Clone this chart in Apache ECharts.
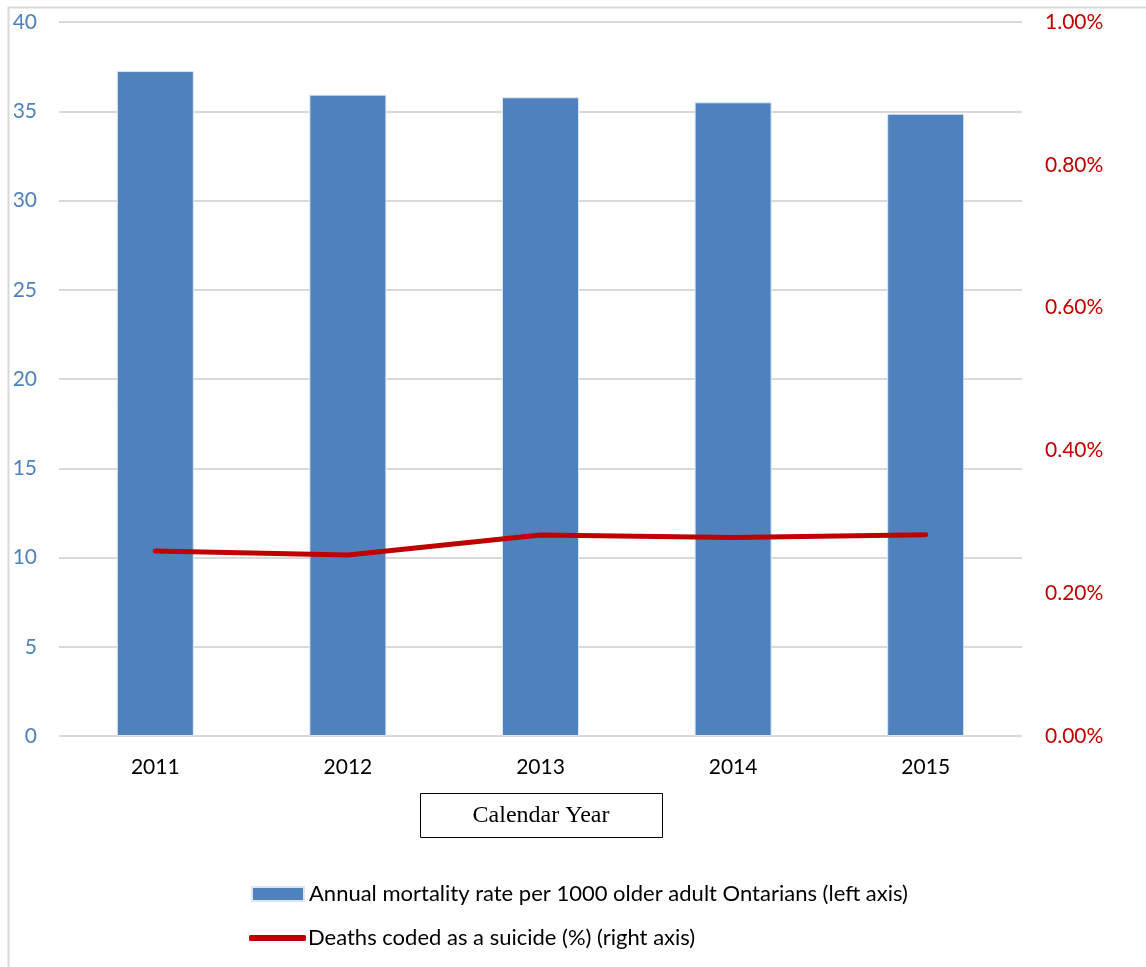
<!DOCTYPE html>
<html>
<head>
<meta charset="utf-8">
<script src="https://cdn.jsdelivr.net/npm/echarts@6/dist/echarts.min.js"></script>
<style>
html, body { margin: 0; padding: 0; background: #fff; }
#chart { width: 1146px; height: 967px; }
</style>
</head>
<body>
<div id="chart"></div>
<script>
var years = ['2011', '2012', '2013', '2014', '2015'];
var mortality = [37.25, 35.93, 35.78, 35.5, 34.86];
var suicidePct = [0.00259, 0.002535, 0.002815, 0.00278, 0.00282];
var barName = 'Annual mortality rate per 1000 older adult Ontarians (left axis)';
var lineName = 'Deaths coded as a suicide (%) (right axis)';

var myChart = echarts.init(document.getElementById('chart'));
var legendText = { fontFamily: 'Lato', fontSize: 22, color: '#000' };
var option = {
    animation: false,
    grid: { left: 59, right: 124, top: 22, bottom: 231 },
    graphic: [
        {
            type: 'rect',
            shape: { x: 8.5, y: 7.5, width: 1200, height: 1000 },
            style: { fill: 'none', stroke: '#d9d9d9', lineWidth: 2 },
            silent: true
        },
        {
            type: 'rect',
            shape: { x: 420.5, y: 793.5, width: 242, height: 44 },
            style: { fill: '#fff', stroke: '#000', lineWidth: 1 }
        },
        {
            type: 'text',
            x: 541, y: 816,
            style: {
                text: 'Calendar Year',
                font: '24px "Liberation Serif"',
                fill: '#000',
                align: 'center',
                verticalAlign: 'middle'
            }
        }
    ],
    legend: [
        {
            left: 251, top: 883, padding: 0,
            itemWidth: 52, itemHeight: 14,
            textStyle: legendText,
            data: [{ name: barName, icon: 'rect' }]
        },
        {
            left: 249, top: 927, padding: 0,
            itemWidth: 57, itemHeight: 6,
            textStyle: { fontFamily: 'Lato', fontSize: 22, color: '#000', padding: [0, 0, 0, -3] },
            data: [{ name: lineName, icon: 'roundRect' }]
        }
    ],
    xAxis: {
        type: 'category',
        data: years,
        axisLine: { show: false },
        axisTick: { show: false },
        axisLabel: { fontFamily: 'Lato', fontSize: 21, color: '#000', margin: 21 }
    },
    yAxis: [
        {
            type: 'value',
            min: 0, max: 40, interval: 5,
            axisLine: { show: false },
            axisTick: { show: false },
            splitLine: { lineStyle: { color: '#d9d9d9', width: 2 } },
            axisLabel: { fontFamily: 'Lato', fontSize: 21, color: '#4f81bd', margin: 22 }
        },
        {
            type: 'value',
            min: 0, max: 0.01, interval: 0.002,
            axisLine: { show: false },
            axisTick: { show: false },
            splitLine: { show: false },
            axisLabel: {
                fontFamily: 'Lato', fontSize: 21, color: '#c00000', margin: 23,
                formatter: function (v) { return (v * 100).toFixed(2) + '%'; }
            }
        }
    ],
    series: [
        {
            name: barName,
            type: 'bar',
            data: mortality,
            barWidth: 77,
            itemStyle: { color: '#4f81bd', borderColor: '#dce6f2', borderWidth: 1 }
        },
        {
            name: lineName,
            type: 'line',
            yAxisIndex: 1,
            data: suicidePct,
            symbol: 'none',
            lineStyle: { color: '#c00000', width: 5, cap: 'round' },
            itemStyle: { color: '#c00000' }
        }
    ]
};
myChart.setOption(option);
</script>
</body>
</html>
